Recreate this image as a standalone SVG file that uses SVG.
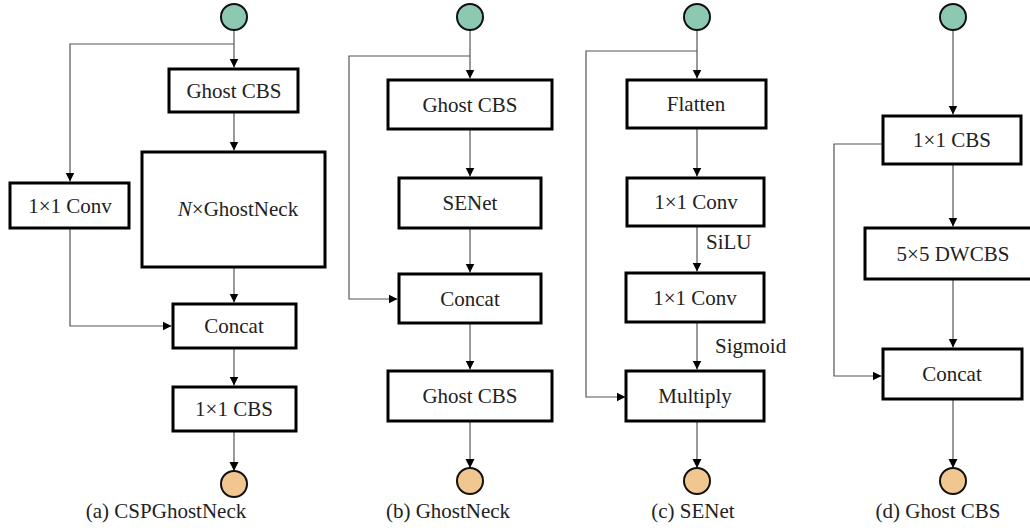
<svg xmlns="http://www.w3.org/2000/svg" width="1030" height="530" viewBox="0 0 1030 530">
<defs>
<marker id="ah" markerUnits="userSpaceOnUse" markerWidth="10" markerHeight="10" refX="9" refY="4.5" orient="auto">
<path d="M0,0 L9,4.5 L0,9 Z" fill="#000"/>
</marker>
</defs>
<rect width="1030" height="530" fill="#fff"/>
<g id="connectors" fill="none" stroke="#555" stroke-width="1.2" marker-end="url(#ah)">
<path d="M234,30 V67.5"/>
<path d="M234,44 H70 V181.5"/>
<path d="M234,112 V150.5"/>
<path d="M234,267 V302.5"/>
<path d="M70,228 V326 H171.5"/>
<path d="M234,348 V385.5"/>
<path d="M234,431 V471"/>
<path d="M470,30 V78.5"/>
<path d="M470,56 H349 V299 H397.5"/>
<path d="M470,129 V176.5"/>
<path d="M470,228 V272.5"/>
<path d="M470,323 V369.5"/>
<path d="M470,421 V468"/>
<path d="M697,30 V78.5"/>
<path d="M697,51 H586 V397 H625.5"/>
<path d="M697,128 V176.5"/>
<path d="M697,226 V271.5"/>
<path d="M697,322 V369.5"/>
<path d="M697,421 V468"/>
<path d="M953,30 V114.5"/>
<path d="M883,144 H834 V376 H881.5"/>
<path d="M953,164 V226.5"/>
<path d="M953,279 V347.5"/>
<path d="M953,399 V468"/>
</g>
<g font-family="Liberation Serif" font-size="21" fill="#222" text-anchor="middle">
<g fill="#fff" stroke="#000" stroke-width="3">
</g>
<g id="a-in"><circle cx="234" cy="17" r="13" fill="#8DC8B0" stroke="#111" stroke-width="2"/></g>
<g id="a-ghostcbs"><rect x="169" y="69" width="129" height="43" fill="#fff" stroke="#000" stroke-width="3"/><text x="234" y="98" font-family="Liberation Serif" font-size="21">Ghost CBS</text></g>
<g id="a-ghostneck"><rect x="142" y="152" width="183" height="115" fill="#fff" stroke="#000" stroke-width="3"/><text x="238" y="216" font-family="Liberation Serif" font-size="21"><tspan font-style="italic">N</tspan>×GhostNeck</text></g>
<g id="a-conv"><rect x="10" y="183" width="119" height="45" fill="#fff" stroke="#000" stroke-width="3"/><text x="70" y="213" font-family="Liberation Serif" font-size="21">1×1 Conv</text></g>
<g id="a-concat"><rect x="173" y="304" width="123" height="44" fill="#fff" stroke="#000" stroke-width="3"/><text x="234" y="333" font-family="Liberation Serif" font-size="21">Concat</text></g>
<g id="a-cbs"><rect x="173" y="387" width="123" height="44" fill="#fff" stroke="#000" stroke-width="3"/><text x="234" y="416" font-family="Liberation Serif" font-size="21">1×1 CBS</text></g>
<g id="a-out"><circle cx="234" cy="484" r="13" fill="#F2C690" stroke="#111" stroke-width="2"/></g>
<g id="a-label"><text x="166" y="518" font-family="Liberation Serif" font-size="21">(a) CSPGhostNeck</text></g>

<g id="b-in"><circle cx="470" cy="17" r="13" fill="#8DC8B0" stroke="#111" stroke-width="2"/></g>
<g id="b-ghostcbs1"><rect x="388" y="80" width="164" height="49" fill="#fff" stroke="#000" stroke-width="3"/><text x="470" y="112" font-family="Liberation Serif" font-size="21">Ghost CBS</text></g>
<g id="b-senet"><rect x="399" y="178" width="142" height="50" fill="#fff" stroke="#000" stroke-width="3"/><text x="470" y="210" font-family="Liberation Serif" font-size="21">SENet</text></g>
<g id="b-concat"><rect x="399" y="274" width="142" height="49" fill="#fff" stroke="#000" stroke-width="3"/><text x="470" y="306" font-family="Liberation Serif" font-size="21">Concat</text></g>
<g id="b-ghostcbs2"><rect x="388" y="371" width="164" height="50" fill="#fff" stroke="#000" stroke-width="3"/><text x="470" y="403" font-family="Liberation Serif" font-size="21">Ghost CBS</text></g>
<g id="b-out"><circle cx="470" cy="481" r="13" fill="#F2C690" stroke="#111" stroke-width="2"/></g>
<g id="b-label"><text x="448" y="518" font-family="Liberation Serif" font-size="21">(b) GhostNeck</text></g>

<g id="c-in"><circle cx="697" cy="17" r="13" fill="#8DC8B0" stroke="#111" stroke-width="2"/></g>
<g id="c-flatten"><rect x="627" y="80" width="139" height="48" fill="#fff" stroke="#000" stroke-width="3"/><text x="696" y="111" font-family="Liberation Serif" font-size="21">Flatten</text></g>
<g id="c-conv1"><rect x="627" y="178" width="137" height="48" fill="#fff" stroke="#000" stroke-width="3"/><text x="696" y="209" font-family="Liberation Serif" font-size="21">1×1 Conv</text></g>
<g id="c-silu"><text x="706" y="249" text-anchor="start" font-family="Liberation Serif" font-size="21">SiLU</text></g>
<g id="c-conv2"><rect x="626" y="273" width="138" height="49" fill="#fff" stroke="#000" stroke-width="3"/><text x="695" y="305" font-family="Liberation Serif" font-size="21">1×1 Conv</text></g>
<g id="c-sigmoid"><text x="715" y="353" text-anchor="start" font-family="Liberation Serif" font-size="21">Sigmoid</text></g>
<g id="c-multiply"><rect x="626" y="371" width="138" height="50" fill="#fff" stroke="#000" stroke-width="3"/><text x="695" y="403" font-family="Liberation Serif" font-size="21">Multiply</text></g>
<g id="c-out"><circle cx="697" cy="481" r="13" fill="#F2C690" stroke="#111" stroke-width="2"/></g>
<g id="c-label"><text x="693" y="518" font-family="Liberation Serif" font-size="21">(c) SENet</text></g>

<g id="d-in"><circle cx="953" cy="17" r="13" fill="#8DC8B0" stroke="#111" stroke-width="2"/></g>
<g id="d-cbs"><rect x="883" y="116" width="138" height="48" fill="#fff" stroke="#000" stroke-width="3"/><text x="952" y="147" font-family="Liberation Serif" font-size="21">1×1 CBS</text></g>
<g id="d-dwcbs"><rect x="865" y="228" width="176" height="51" fill="#fff" stroke="#000" stroke-width="3"/><text x="953" y="261" font-family="Liberation Serif" font-size="21">5×5 DWCBS</text></g>
<g id="d-concat"><rect x="883" y="349" width="139" height="50" fill="#fff" stroke="#000" stroke-width="3"/><text x="952" y="381" font-family="Liberation Serif" font-size="21">Concat</text></g>
<g id="d-out"><circle cx="953" cy="481" r="13" fill="#F2C690" stroke="#111" stroke-width="2"/></g>
<g id="d-label"><text x="938" y="518" font-family="Liberation Serif" font-size="21">(d) Ghost CBS</text></g>
</g>
</svg>
